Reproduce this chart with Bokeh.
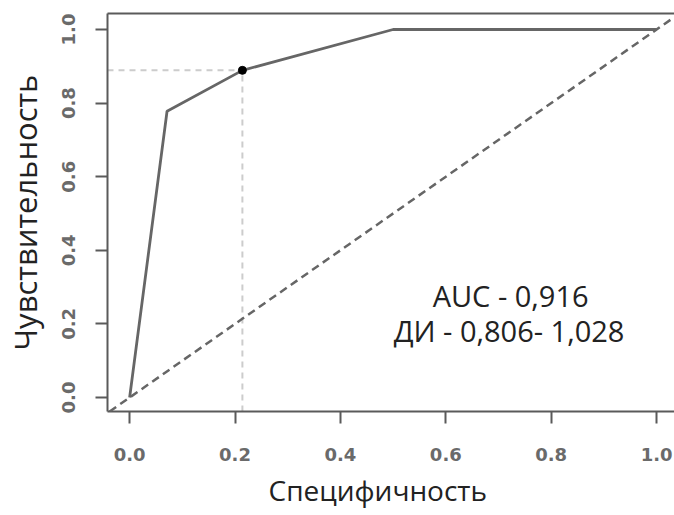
from bokeh.plotting import figure
from bokeh.models import FixedTicker, LinearAxis, Slope, Range1d, Label, Title
from bokeh.embed import file_html
from bokeh.resources import INLINE

# ROC curve points
specificity = [0.0, 0.071, 0.214, 0.5, 1.0]
sensitivity = [0.0, 0.778, 0.889, 1.0, 1.0]
# optimal cut-off point
cut_spec = [0.214]
cut_sens = [0.889]
ticks = [0.0, 0.2, 0.4, 0.6, 0.8, 1.0]
tick_labels = ["0.0", "0.2", "0.4", "0.6", "0.8", "1.0"]
auc_text = "AUC - 0,916"
ci_text = "ДИ - 0,806- 1,028"
x_title = "Специфичность"
y_title = "Чувствительность"

X0, X1 = -0.042, 1.034
Y0, Y1 = -0.038, 1.0435

p = figure(width=674, height=515, output_backend="svg", toolbar_location=None,
           x_range=Range1d(X0, X1), y_range=Range1d(Y0, Y1),
           min_border_left=107, min_border_top=13, min_border_bottom=104, min_border_right=0,
           y_axis_label=y_title)
p.grid.visible = False
p.outline_line_color = None
p.background_fill_color = "white"
p.border_fill_color = "white"

box_col = "#5a5a5a"
tick_font = "DejaVu Sans"
title_font = "Open Sans"

for ax in (p.xaxis[0], p.yaxis[0]):
    ax.ticker = FixedTicker(ticks=ticks)
    ax.major_label_overrides = {t: l for t, l in zip(ticks, tick_labels)}
    ax.minor_tick_line_color = None
    ax.major_tick_in = 0
    ax.major_tick_out = 12
    ax.axis_line_color = box_col
    ax.axis_line_width = 2
    ax.major_tick_line_color = box_col
    ax.major_tick_line_width = 2
    ax.major_label_text_font = tick_font
    ax.major_label_text_font_size = "18px"
    ax.major_label_text_font_style = "bold"
    ax.major_label_text_color = "#6a6a6a"

p.xaxis.major_label_standoff = 24
p.yaxis.major_label_standoff = 20
p.yaxis.major_label_orientation = "vertical"
p.yaxis.axis_label_standoff = 14
p.yaxis.axis_label_text_font = title_font
p.yaxis.axis_label_text_font_size = "31px"
p.yaxis.axis_label_text_font_style = "normal"
p.yaxis.axis_label_text_color = "#222222"

# top border line of the box
top = LinearAxis(ticker=FixedTicker(ticks=[]), axis_line_color=box_col, axis_line_width=2,
                 major_tick_line_color=None, minor_tick_line_color=None,
                 major_tick_out=0, major_label_standoff=0)
p.add_layout(top, "above")

# x axis title
p.add_layout(Title(text=x_title, align="left", offset=161, standoff=10,
                   text_font=title_font, text_font_size="28px", text_font_style="normal",
                   text_color="#222222"), "below")

# chance diagonal
p.add_layout(Slope(gradient=1, y_intercept=0, line_color="#666666", line_width=2.5,
                   line_dash="8 5"))

# cut-off guide lines
p.segment(x0=[X0], y0=cut_sens, x1=cut_spec, y1=cut_sens, line_color="#cccccc",
          line_width=2, line_dash="6 5")
p.segment(x0=cut_spec, y0=[Y0], x1=cut_spec, y1=cut_sens, line_color="#cccccc",
          line_width=2, line_dash="6 5")

# ROC curve
p.line(specificity, sensitivity, line_color="#666666", line_width=2.8)
p.scatter(cut_spec, cut_sens, size=8, fill_color="black", line_color="black")

# annotation texts
p.add_layout(Label(x=0.575, y=0.277, text=auc_text, text_font=title_font,
                   text_font_size="29px", text_color="#222222", text_baseline="alphabetic"))
p.add_layout(Label(x=0.501, y=0.182, text=ci_text, text_font=title_font,
                   text_font_size="29px", text_color="#222222", text_baseline="alphabetic"))

open("out.html", "w").write(file_html(p, INLINE))
